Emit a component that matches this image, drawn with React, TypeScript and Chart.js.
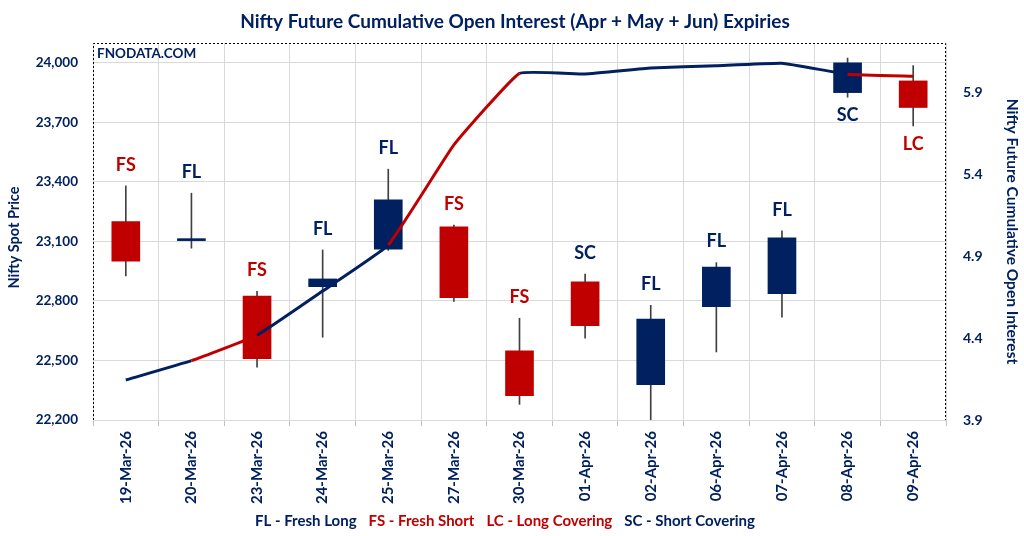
import React, { useRef, useEffect } from 'react';
import { Chart, registerables } from 'chart.js';

Chart.register(...registerables);

const NAVY = '#002060';
const RED = '#C00000';
const FONT = 'Lato, "Open Sans", sans-serif';

const dates = [
  '19-Mar-26', '20-Mar-26', '23-Mar-26', '24-Mar-26', '25-Mar-26', '27-Mar-26', '30-Mar-26',
  '01-Apr-26', '02-Apr-26', '06-Apr-26', '07-Apr-26', '08-Apr-26', '09-Apr-26'
];
const openPrices = [23200, 23104, 22825, 22872, 23061, 23173, 22548, 22896, 22378, 22771, 22837, 23850, 23909];
const closePrices = [23000, 23114, 22509, 22911, 23309, 22817, 22322, 22675, 22709, 22971, 23118, 24000, 23775];
const highPrices = [23380, 23343, 22849, 23057, 23464, 23182, 22713, 22935, 22778, 22993, 23153, 24024, 23986];
const lowPrices = [22926, 23066, 22466, 22617, 23055, 22797, 22279, 22612, 22198, 22543, 22718, 23827, 23682];
const openInterest = [4.144, 4.262, 4.417, 4.687, 4.967, 5.578, 6.015, 6.011, 6.047, 6.061, 6.076, 6.01, 5.997];
const signals = ['FS', 'FL', 'FS', 'FL', 'FL', 'FS', 'FS', 'SC', 'FL', 'FL', 'FL', 'SC', 'LC'];

const priceTicks = [22200, 22500, 22800, 23100, 23400, 23700, 24000];
const oiTicks = [3.9, 4.4, 4.9, 5.4, 5.9];

const legendItems = [
  { text: 'FL - Fresh Long', color: NAVY },
  { text: 'FS - Fresh Short', color: RED },
  { text: 'LC - Long Covering', color: RED },
  { text: 'SC - Short Covering', color: NAVY }
];

const isBearish = (s: string) => s === 'FS' || s === 'LC';

// draws title, axis titles, watermark, signal labels, legend and dashed border
const decorPlugin = {
  id: 'decor',
  afterDatasetsDraw(chart: any) {
    const { ctx, chartArea } = chart;
    const y = chart.scales.y;
    ctx.save();

    // dashed frame (top, left, right)
    ctx.strokeStyle = '#000';
    ctx.lineWidth = 1;
    ctx.setLineDash([2, 2]);
    ctx.beginPath();
    ctx.moveTo(chartArea.left + 0.5, chartArea.bottom);
    ctx.lineTo(chartArea.left + 0.5, chartArea.top + 0.5);
    ctx.lineTo(chartArea.right - 0.5, chartArea.top + 0.5);
    ctx.lineTo(chartArea.right - 0.5, chartArea.bottom);
    ctx.stroke();
    ctx.setLineDash([]);

    // signal labels
    ctx.font = `bold 18px ${FONT}`;
    ctx.textAlign = 'center';
    ctx.textBaseline = 'middle';
    const meta = chart.getDatasetMeta(1);
    signals.forEach((s, i) => {
      const x = meta.data[i].x;
      ctx.fillStyle = isBearish(s) ? RED : NAVY;
      if (highPrices[i] > 23800) {
        ctx.fillText(s, x, y.getPixelForValue(lowPrices[i]) + 18);
      } else {
        ctx.fillText(s, x, y.getPixelForValue(highPrices[i]) - 21);
      }
    });

    // watermark
    ctx.font = `bold 13.5px ${FONT}`;
    ctx.fillStyle = NAVY;
    ctx.textAlign = 'left';
    ctx.fillText('FNODATA.COM', chartArea.left + 4, chartArea.top + 11);

    // title
    ctx.font = `bold 19px ${FONT}`;
    ctx.textAlign = 'center';
    ctx.fillText('Nifty Future Cumulative Open Interest (Apr + May + Jun) Expiries', 515, 22);

    // axis titles
    const midY = (chartArea.top + chartArea.bottom) / 2;
    ctx.font = `bold 14.5px ${FONT}`;
    ctx.save();
    ctx.translate(14, midY + 6);
    ctx.rotate(-Math.PI / 2);
    ctx.fillText('Nifty Spot Price', 0, 0);
    ctx.restore();
    ctx.font = `bold 15.5px ${FONT}`;
    ctx.save();
    ctx.translate(1012, midY);
    ctx.rotate(Math.PI / 2);
    ctx.fillText('Nifty Future Cumulative Open Interest', 0, 0);
    ctx.restore();

    // legend
    ctx.font = `bold 15px ${FONT}`;
    ctx.textAlign = 'left';
    const gap = 12;
    const widths = legendItems.map(l => ctx.measureText(l.text).width);
    const total = widths.reduce((a, b) => a + b, 0) + gap * (legendItems.length - 1);
    let lx = 505 - total / 2;
    legendItems.forEach((l, i) => {
      ctx.fillStyle = l.color;
      ctx.fillText(l.text, lx, 521);
      lx += widths[i] + gap;
    });

    ctx.restore();
  }
};

const App: React.FC = () => {
  const canvasRef = useRef<HTMLCanvasElement>(null);
  const chartRef = useRef<Chart | null>(null);

  useEffect(() => {
    document.body.style.margin = '0';
    if (!canvasRef.current) return;
    if (chartRef.current) chartRef.current.destroy();

    const bodyColors = openPrices.map((o, i) => (closePrices[i] >= o ? NAVY : RED));

    chartRef.current = new Chart(canvasRef.current, {
      type: 'bar',
      data: {
        labels: dates,
        datasets: [
          {
            type: 'line',
            label: 'Open Interest',
            data: openInterest,
            yAxisID: 'y1',
            borderWidth: 3,
            borderColor: NAVY,
            pointRadius: 0,
            tension: 0.1,
            order: 0,
            segment: {
              borderColor: (ctx: any) => (isBearish(signals[ctx.p1DataIndex]) ? RED : NAVY)
            }
          } as any,
          {
            label: 'Body',
            data: openPrices.map((o, i) => [o, closePrices[i]]),
            backgroundColor: bodyColors,
            barThickness: 28,
            grouped: false,
            yAxisID: 'y',
            order: 1
          },
          {
            label: 'Wick',
            data: lowPrices.map((l, i) => [l, highPrices[i]]),
            backgroundColor: '#404040',
            barThickness: 1,
            grouped: false,
            yAxisID: 'y',
            order: 2
          }
        ]
      },
      options: {
        animation: false,
        responsive: true,
        maintainAspectRatio: false,
        layout: { padding: { top: 43, left: 0, right: 0, bottom: 0 } },
        plugins: {
          legend: { display: false },
          title: { display: false },
          tooltip: { enabled: false }
        },
        scales: {
          x: {
            offset: true,
            grid: { offset: true, color: '#d9d9d9', tickColor: '#bfbfbf', tickLength: 6 },
            border: { color: '#d9d9d9' },
            ticks: {
              color: NAVY,
              font: { family: FONT, size: 15, weight: 'bold' },
              minRotation: 90,
              maxRotation: 90,
              padding: 5,
              autoSkip: false
            },
            afterFit: (s: any) => { s.height = 116; }
          },
          y: {
            position: 'left',
            min: 22200,
            max: 24100,
            grid: { color: '#d9d9d9', drawTicks: false },
            border: { display: false },
            afterBuildTicks: (s: any) => { s.ticks = priceTicks.map(v => ({ value: v })); },
            ticks: {
              color: NAVY,
              font: { family: FONT, size: 13.5, weight: 'bold' },
              padding: 15,
              callback: (v: any) => Number(v).toLocaleString('en-US')
            },
            afterFit: (s: any) => { s.width = 93; }
          },
          y1: {
            position: 'right',
            min: 3.9,
            max: 6.2,
            grid: { drawOnChartArea: false, drawTicks: false },
            border: { display: false },
            afterBuildTicks: (s: any) => { s.ticks = oiTicks.map(v => ({ value: v })); },
            ticks: {
              color: NAVY,
              font: { family: FONT, size: 14, weight: 'bold' },
              padding: 17,
              callback: (v: any) => Number(v).toFixed(1)
            },
            afterFit: (s: any) => { s.width = 78; }
          }
        }
      },
      plugins: [decorPlugin]
    });

    return () => {
      if (chartRef.current) {
        chartRef.current.destroy();
        chartRef.current = null;
      }
    };
  }, []);

  return (
    <div style={{ width: 1024, height: 536, position: 'relative', background: '#fff' }}>
      <canvas ref={canvasRef}></canvas>
    </div>
  );
};

export default App;
